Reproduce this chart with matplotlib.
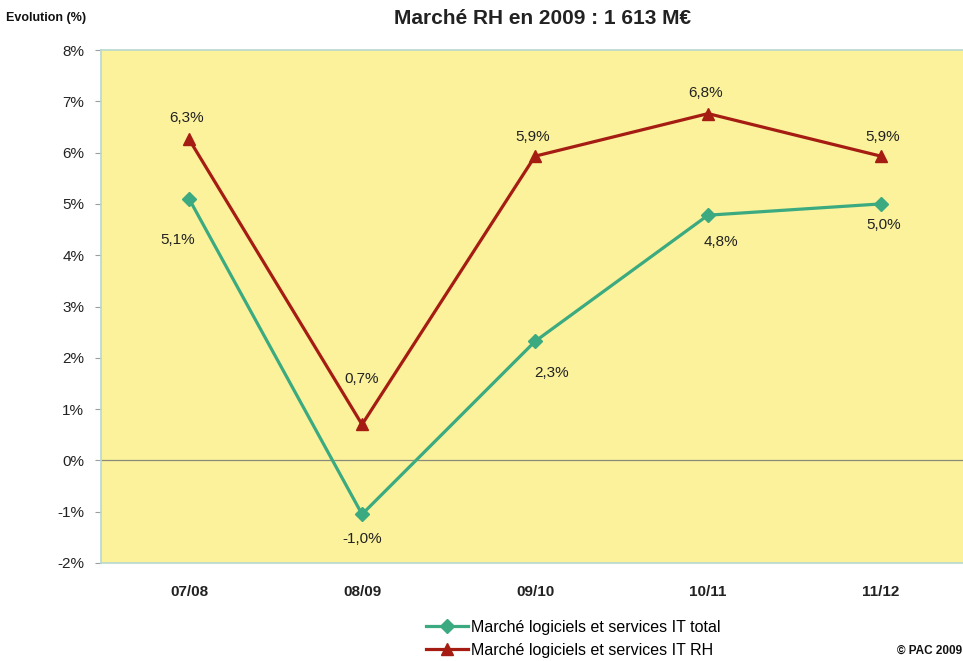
import matplotlib.pyplot as plt
from matplotlib.ticker import FuncFormatter

plt.rcParams['font.family'] = ['Liberation Sans', 'DejaVu Sans']

periods = ["07/08", "08/09", "09/10", "10/11", "11/12"]
total_vals = [5.1, -1.05, 2.32, 4.78, 5.0]
total_labels = ["5,1%", "-1,0%", "2,3%", "4,8%", "5,0%"]
rh_vals = [6.26, 0.7, 5.93, 6.76, 5.93]
rh_labels = ["6,3%", "0,7%", "5,9%", "6,8%", "5,9%"]
yticks = [-2, -1, 0, 1, 2, 3, 4, 5, 6, 7, 8]

# label offsets in points (dx, dy)
total_offsets = [(-8, -30), (0, -18), (12, -23), (9, -19), (2, -15)]
rh_offsets = [(-2, 15), (0, 33), (-2, 14), (-2, 15), (1, 14)]

GREEN = "#3BAA80"
RED = "#A51D12"

fig = plt.figure(figsize=(9.63, 6.61), dpi=100)
ax = fig.add_axes([101 / 963, 1 - 563 / 661, 862 / 963, 513 / 661])
ax.set_facecolor("#FBF29B")

x = list(range(len(periods)))
ax.plot(x, total_vals, color=GREEN, lw=2.3, marker="D", ms=7,
        label="Marché logiciels et services IT total", zorder=3)
ax.plot(x, rh_vals, color=RED, lw=2.3, marker="^", ms=9,
        label="Marché logiciels et services IT RH", zorder=3)

for i in x:
    ax.annotate(total_labels[i], (i, total_vals[i]), xytext=total_offsets[i],
                textcoords="offset points", ha="center", va="center",
                fontsize=11, color="#222222")
    ax.annotate(rh_labels[i], (i, rh_vals[i]), xytext=rh_offsets[i],
                textcoords="offset points", ha="center", va="center",
                fontsize=11, color="#222222")

ax.axhline(0, color="#8a8a7a", lw=0.9, zorder=1)

ax.set_xlim(-0.509, 4.474)
ax.set_ylim(-2, 8)
ax.set_yticks(yticks)
ax.yaxis.set_major_formatter(FuncFormatter(lambda v, p: f"{int(v)}%"))
ax.set_xticks(x)
ax.set_xticklabels(periods, fontweight="bold")
ax.tick_params(axis="x", length=0, pad=16, labelsize=11, labelcolor="#222222")
ax.tick_params(axis="y", length=4, color="#9aa0a0", labelsize=11,
               labelcolor="#222222", pad=8)

for s in ["left", "top", "bottom"]:
    ax.spines[s].set_color("#b8d8d0")
    ax.spines[s].set_linewidth(1.2)
ax.spines["right"].set_visible(False)

fig.text(543 / 963, 1 - 18 / 661, "Marché RH en 2009 : 1 613 M€",
         ha="center", va="center", fontsize=15, fontweight="bold", color="#222222")
fig.text(6 / 963, 1 - 18 / 661, "Evolution (%)", ha="left", va="center",
         fontsize=9, fontweight="bold", color="#111111")
fig.text(962 / 963, 1 - 651 / 661, "© PAC 2009", ha="right", va="center",
         fontsize=8.5, fontweight="bold", color="#111111")

fig.legend(loc="center left", bbox_to_anchor=(418 / 963, 1 - 639 / 661),
           frameon=False, fontsize=11.5, handlelength=2.6, handletextpad=0.2,
           labelspacing=0.5, borderpad=0)

fig.savefig("out.png", dpi=100)
